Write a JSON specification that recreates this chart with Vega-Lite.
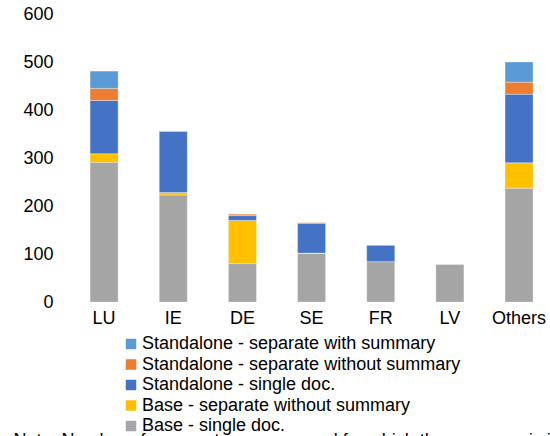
{
  "$schema": "https://vega.github.io/schema/vega-lite/v6.json",
  "autosize": "none",
  "width": 490,
  "height": 288,
  "padding": {"left": 60, "top": 14, "right": 0, "bottom": 134},
  "background": "white",
  "title": {
    "text": "Split of prospectuses by summary type and by prospectus type",
    "anchor": "start",
    "frame": "group",
    "orient": "top",
    "baseline": "alphabetic",
    "offset": 14,
    "dx": 10,
    "font": "Liberation Sans",
    "fontSize": 18,
    "fontWeight": "bold",
    "color": "#2F5597"
  },
  "config": {
    "view": {"stroke": null},
    "font": "Liberation Sans"
  },
  "data": {
    "values": [
      {"country": "LU", "type": "Base - single doc.", "layer": 1, "count": 291},
      {"country": "LU", "type": "Base - separate without summary", "layer": 2, "count": 18},
      {"country": "LU", "type": "Standalone - single doc.", "layer": 3, "count": 111},
      {"country": "LU", "type": "Standalone - separate without summary", "layer": 4, "count": 25},
      {"country": "LU", "type": "Standalone - separate with summary", "layer": 5, "count": 36},
      {"country": "IE", "type": "Base - single doc.", "layer": 1, "count": 223},
      {"country": "IE", "type": "Base - separate without summary", "layer": 2, "count": 5},
      {"country": "IE", "type": "Standalone - single doc.", "layer": 3, "count": 127},
      {"country": "DE", "type": "Base - single doc.", "layer": 1, "count": 80},
      {"country": "DE", "type": "Base - separate without summary", "layer": 2, "count": 90},
      {"country": "DE", "type": "Standalone - single doc.", "layer": 3, "count": 10},
      {"country": "DE", "type": "Standalone - separate without summary", "layer": 4, "count": 3},
      {"country": "SE", "type": "Base - single doc.", "layer": 1, "count": 101},
      {"country": "SE", "type": "Base - separate without summary", "layer": 2, "count": 1},
      {"country": "SE", "type": "Standalone - single doc.", "layer": 3, "count": 62},
      {"country": "SE", "type": "Standalone - separate without summary", "layer": 4, "count": 1},
      {"country": "FR", "type": "Base - single doc.", "layer": 1, "count": 84},
      {"country": "FR", "type": "Standalone - single doc.", "layer": 3, "count": 34},
      {"country": "LV", "type": "Base - single doc.", "layer": 1, "count": 78},
      {"country": "Others", "type": "Base - single doc.", "layer": 1, "count": 237},
      {"country": "Others", "type": "Base - separate without summary", "layer": 2, "count": 53},
      {"country": "Others", "type": "Standalone - single doc.", "layer": 3, "count": 143},
      {"country": "Others", "type": "Standalone - separate without summary", "layer": 4, "count": 25},
      {"country": "Others", "type": "Standalone - separate with summary", "layer": 5, "count": 42}
    ]
  },
  "mark": {"type": "bar", "stroke": "#ffffff", "strokeWidth": 0.5, "strokeOpacity": 0.6},
  "encoding": {
    "x": {
      "field": "country",
      "type": "nominal",
      "sort": ["LU", "IE", "DE", "SE", "FR", "LV", "Others"],
      "scale": {"paddingInner": 0.595, "paddingOuter": 0.34, "align": 0.64},
      "axis": {
        "title": "Note: Number of prospectuses approved for which the summary is included in the document",
        "titleAnchor": "start",
        "titleAlign": "left",
        "titleBaseline": "alphabetic",
        "titleX": -47,
        "titleY": 143,
        "titleFont": "Liberation Sans",
        "titleFontSize": 18,
        "titleFontWeight": "normal",
        "titleColor": "#000000",
        "labelAngle": 0,
        "labelFont": "Liberation Sans",
        "labelFontSize": 18,
        "labelColor": "#000000",
        "labelPadding": 7,
        "ticks": false,
        "domain": false
      }
    },
    "y": {
      "field": "count",
      "type": "quantitative",
      "stack": "zero",
      "scale": {"domain": [0, 600], "nice": false},
      "axis": {
        "title": null,
        "values": [0, 100, 200, 300, 400, 500, 600],
        "grid": false,
        "ticks": false,
        "domain": false,
        "labelFont": "Liberation Sans",
        "labelFontSize": 18,
        "labelColor": "#000000",
        "labelPadding": 7
      }
    },
    "order": {"field": "layer", "type": "quantitative", "sort": "ascending"},
    "color": {
      "field": "type",
      "type": "nominal",
      "sort": [
        "Base - single doc.",
        "Base - separate without summary",
        "Standalone - single doc.",
        "Standalone - separate without summary",
        "Standalone - separate with summary"
      ],
      "scale": {
        "range": ["#A5A5A5", "#FFC000", "#4472C4", "#ED7D31", "#5B9BD5"]
      },
      "legend": {
        "title": null,
        "orient": "none",
        "legendX": 62,
        "legendY": 321,
        "values": [
          "Standalone - separate with summary",
          "Standalone - separate without summary",
          "Standalone - single doc.",
          "Base - separate without summary",
          "Base - single doc."
        ],
        "symbolType": "square",
        "symbolSize": 110,
        "symbolStrokeWidth": 0,
        "labelFont": "Liberation Sans",
        "labelFontSize": 18,
        "labelColor": "#000000",
        "labelOffset": 2,
        "labelLimit": 0,
        "rowPadding": 2.5
      }
    }
  }
}
